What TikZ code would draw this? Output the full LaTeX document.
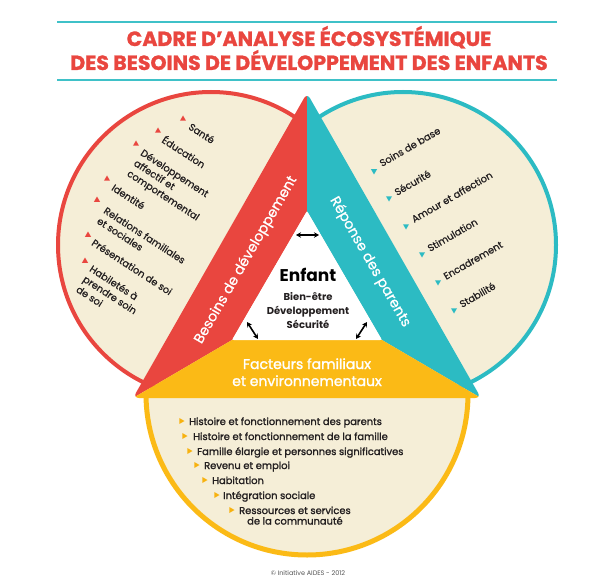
\documentclass[tikz,border=0pt]{standalone}
\usepackage{fontspec}
\setmainfont{Poppins}
\newfontfamily\medfont{Poppins}[FakeBold=0.8]
\newfontfamily\semifont{Poppins}[FakeBold=1.6]
\newfontfamily\titlefont{Poppins}[BoldFeatures={FakeBold=1.2}]
\usetikzlibrary{arrows.meta,shapes.geometric}
\definecolor{cred}{HTML}{E9463F}
\definecolor{ccyan}{HTML}{2CBBC3}
\definecolor{cyell}{HTML}{FBBA16}
\definecolor{cmark}{HTML}{F7B20F}
\definecolor{ccream}{HTML}{F5EED7}
\definecolor{ctext}{HTML}{231F20}
\definecolor{crule}{HTML}{3FC1C8}
\definecolor{cfoot}{HTML}{555555}
\tikzset{
  leftitem/.style={anchor=north west, rotate=-33, inner sep=0pt, align=left,
    font=\medfont\fontsize{9.8}{12.3}\selectfont, text=ctext},
  rightitem/.style={anchor=base west, rotate=30, inner sep=0pt,
    font=\medfont\fontsize{9.8}{11}\selectfont, text=ctext},
  botitem/.style={anchor=base west, inner sep=0pt,
    font=\semifont\fontsize{9.9}{11}\selectfont, text=ctext},
  upmark/.style={regular polygon, regular polygon sides=3, fill=cred, inner sep=0pt, minimum size=7pt},
  downmark/.style={regular polygon, regular polygon sides=3, shape border rotate=180, fill=ccyan, inner sep=0pt, minimum size=7pt},
  rightmark/.style={regular polygon, regular polygon sides=3, shape border rotate=-90, fill=cmark, inner sep=0pt, minimum size=7pt},
  bandlabel/.style={text=white, inner sep=0pt, font=\medfont\fontsize{14}{15}\selectfont},
  yelllabel/.style={text=white, inner sep=0pt, anchor=base, font=\semifont\fontsize{14}{15}\selectfont},
  dblarrow/.style={{Stealth[length=5pt,width=5.5pt]}-{Stealth[length=5pt,width=5.5pt]}, line width=1.6pt, black},
  titletext/.style={anchor=base, inner sep=0pt, text=cred, font=\titlefont\bfseries\fontsize{20.5}{22}\selectfont},
  centerbig/.style={anchor=base, inner sep=0pt, text=black, font=\bfseries\fontsize{17}{20}\selectfont},
  centersmall/.style={anchor=base, inner sep=0pt, text=ctext, font=\bfseries\fontsize{10}{12}\selectfont},
  ruleline/.style={crule, line width=2pt},
}
\begin{document}
\begin{tikzpicture}[x=1pt,y=-1pt]
\useasboundingbox (0,0) rectangle (599,580);
\fill[white] (0,0) rectangle (599,580);
% title
\coordinate (r1a) at (57,22); \coordinate (r1b) at (557,22);
\coordinate (r2a) at (57,80); \coordinate (r2b) at (557,80);
\draw[ruleline] (r1a) -- (r1b);
\draw[ruleline] (r2a) -- (r2b);
\node[titletext] (t1) at (309,46) {CADRE D’ANALYSE ÉCOSYSTÉMIQUE};
\node[titletext] (t2) at (309,70) {DES BESOINS DE DÉVELOPPEMENT DES ENFANTS};
% circles
\draw[cred, line width=4pt, fill=ccream] (211,245) circle[radius=153];
\draw[ccyan, line width=4pt, fill=ccream] (403,245) circle[radius=153];
\fill[ccream] (146,394) arc[start angle=180, end angle=0, radius=161] -- cycle;
\draw[cyell, line width=5pt] (146,394) arc[start angle=180, end angle=0, radius=161];
% triangle
\begin{scope}
\clip[rounded corners=6pt] (307,93) -- (133,398) -- (481,398) -- cycle;
\fill[cred] (307,211) -- (307,60) -- (98,60) -- (98,418.5) -- (232,340) -- cycle;
\fill[ccyan] (307,211) -- (307,60) -- (516,60) -- (516,418.5) -- (382,340) -- cycle;
\fill[cyell] (232,340) -- (382,340) -- (516,418.5) -- (98,418.5) -- cycle;
\end{scope}
\fill[white, rounded corners=2pt] (307,211) -- (232,340) -- (382,340) -- cycle;
% band labels
\node[bandlabel, rotate=60] (besoins) at (246,260) {Besoins de développement};
\node[bandlabel, rotate=-60] (reponse) at (370,262) {Réponse des parents};
\node[yelllabel] (fac1) at (307,369) {Facteurs familiaux};
\node[yelllabel] (fac2) at (307,386) {et environnementaux};
% center
\node[centerbig] (enfant) at (308,281) {Enfant};
\node[centersmall] (c1) at (308,300) {Bien-être};
\node[centersmall] (c2) at (308,314) {Développement};
\node[centersmall] (c3) at (308,328) {Sécurité};
\coordinate (a1) at (296,235); \coordinate (a2) at (319,235);
\coordinate (a3) at (247,322); \coordinate (a4) at (258,339);
\coordinate (a5) at (367,322); \coordinate (a6) at (356,339);
\draw[dblarrow] (a1) -- (a2);
\draw[dblarrow] (a3) -- (a4);
\draw[dblarrow] (a5) -- (a6);
% left items
\node[upmark] (lm1) at (183,119) {};
\node[leftitem] (l1) at (192,122) {Santé};
\node[upmark] (lm2) at (158,131) {};
\node[leftitem] (l2) at (166,134) {Éducation};
\node[upmark] (lm3) at (136,144) {};
\node[leftitem] (l3) at (144,148) {Développement\\affectif et\\comportemental};
\node[upmark] (lm4) at (107,179) {};
\node[leftitem] (l4) at (115,183) {Identité};
\node[upmark] (lm5) at (97,200) {};
\node[leftitem] (l5) at (107,206) {Relations familiales\\et sociales};
\node[upmark] (lm6) at (88,235) {};
\node[leftitem] (l6) at (95,238) {Présentation de soi};
\node[upmark] (lm7) at (85,261) {};
\node[leftitem] (l7) at (93,264) {Habiletés à\\prendre soin\\de soi};
% right items
\node[downmark] (rm1) at (374,171) {};
\node[rightitem] (r1) at (382,167) {Soins de base};
\node[downmark] (rm2) at (389,198) {};
\node[rightitem] (r2) at (397,196) {Sécurité};
\node[downmark] (rm3) at (406,226) {};
\node[rightitem] (r3) at (414,223) {Amour et affection};
\node[downmark] (rm4) at (422,254) {};
\node[rightitem] (r4) at (430,252) {Stimulation};
\node[downmark] (rm5) at (438,282) {};
\node[rightitem] (r5) at (446,280) {Encadrement};
\node[downmark] (rm6) at (454,310) {};
\node[rightitem] (r6) at (462,308) {Stabilité};
% bottom items
\node[rightmark] (bm1) at (181,421) {};
\node[botitem] (b1) at (189,425) {Histoire et fonctionnement des parents};
\node[rightmark] (bm2) at (184,436) {};
\node[botitem] (b2) at (193,440) {Histoire et fonctionnement de la famille};
\node[rightmark] (bm3) at (189,451) {};
\node[botitem] (b3) at (197,455) {Famille élargie et personnes significatives};
\node[rightmark] (bm4) at (196,465) {};
\node[botitem] (b4) at (204,469) {Revenu et emploi};
\node[rightmark] (bm5) at (204,480) {};
\node[botitem] (b5) at (212,484) {Habitation};
\node[rightmark] (bm6) at (216,495) {};
\node[botitem] (b6) at (223,499) {Intégration sociale};
\node[rightmark] (bm7) at (231,510) {};
\node[botitem] (b7) at (239,514) {Ressources et services};
\node[botitem, anchor=base] (b7b) at ([yshift=-10.5pt]b7.base) {de la communauté};
% footer
\node[anchor=base, inner sep=0pt, text=cfoot, font=\fontsize{6.5}{8}\selectfont] (foot) at (308,575) {© Initiative AIDES - 2012};
\end{tikzpicture}
\end{document}
